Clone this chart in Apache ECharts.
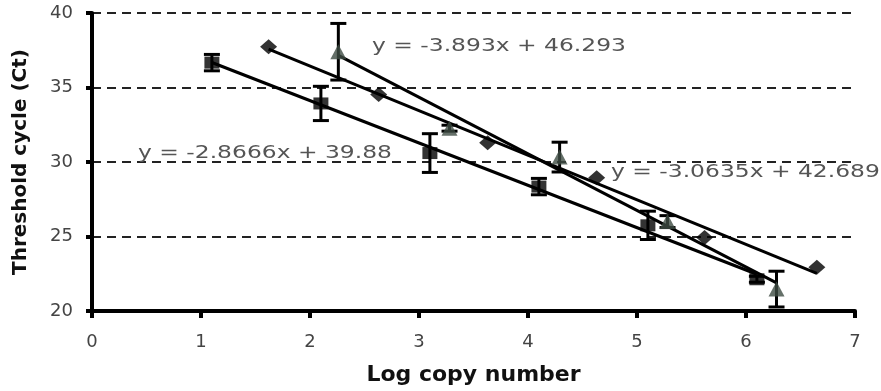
<!DOCTYPE html>
<html><head><meta charset="utf-8">
<script src="https://cdn.jsdelivr.net/npm/echarts@6/dist/echarts.min.js"></script>
<style>html,body{margin:0;padding:0;background:#fff}#c{width:881px;height:391px}</style>
</head><body><div id="c"></div>
<script>
const xTicks = [0,1,2,3,4,5,6,7];
const yTicks = [20,25,30,35,40];
const xSquares = [1.1, 2.1, 3.1, 4.1, 5.1, 6.1];
const ySquares = [36.67, 33.93, 30.6, 28.35, 25.75, 22.13];
const errSquares = [0.55, 1.15, 1.3, 0.55, 0.95, 0.2];
const xDiamonds = [1.62, 2.63, 3.63, 4.63, 5.62, 6.65];
const yDiamonds = [37.73, 34.53, 31.3, 28.95, 24.93, 22.93];
const xTriangles = [2.26, 3.28, 4.29, 5.28, 6.28];
const yTriangles = [37.4, 32.27, 30.33, 26.0, 21.47];
const errTriangles = [1.9, 0.2, 1.0, 0.4, 1.2];
const eqLabels = ['y = -3.893x + 46.293', 'y = -2.8666x + 39.88', 'y = -3.0635x + 42.689'];

function fit(xs, ys){
  const n = xs.length;
  const mx = xs.reduce((a,b)=>a+b,0)/n, my = ys.reduce((a,b)=>a+b,0)/n;
  let sxy=0, sxx=0;
  for(let i=0;i<n;i++){sxy+=(xs[i]-mx)*(ys[i]-my); sxx+=(xs[i]-mx)**2;}
  const b = sxy/sxx, a = my - b*mx;
  const x0 = Math.min(...xs), x1 = Math.max(...xs);
  return [[x0, a+b*x0],[x1, a+b*x1]];
}
const zip = (xs, ys) => xs.map((x,i)=>[x, ys[i]]);
const errData = (xs, ys, es) => xs.map((x,i)=>[x, ys[i]-es[i], ys[i]+es[i]]);

function errRender(params, api){
  const x = api.value(0);
  const lo = api.coord([x, api.value(1)]);
  const hi = api.coord([x, api.value(2)]);
  const w = 8;
  const st = {stroke:'#000', lineWidth:3};
  return {type:'group', children:[
    {type:'line', shape:{x1:lo[0],y1:lo[1],x2:hi[0],y2:hi[1]}, style:st},
    {type:'line', shape:{x1:lo[0]-w,y1:lo[1],x2:lo[0]+w,y2:lo[1]}, style:st},
    {type:'line', shape:{x1:hi[0]-w,y1:hi[1],x2:hi[0]+w,y2:hi[1]}, style:st}
  ]};
}

const chart = echarts.init(document.getElementById('c'));
const font = 'DejaVu Sans';
chart.setOption({
  animation:false,
  backgroundColor:'#fff',
  grid:{left:92,right:26,top:13,bottom:79},
  xAxis:{type:'value',min:0,max:7,interval:1,
    name:'Log copy number',nameLocation:'middle',nameGap:53,
    nameTextStyle:{fontFamily:font,fontWeight:'bold',fontSize:22,color:'#111'},
    axisLine:{show:true,onZero:false,lineStyle:{color:'#000',width:4}},
    axisTick:{show:true,length:7,lineStyle:{color:'#000',width:4}},
    axisLabel:{fontFamily:font,fontSize:18,color:'#444',margin:22,
      formatter:v=>xTicks.includes(v)?String(v):''},
    splitLine:{show:false}},
  yAxis:{type:'value',min:20,max:40,interval:5,
    name:'Threshold cycle (Ct)',nameLocation:'middle',nameGap:61,nameRotate:90,
    nameTextStyle:{fontFamily:font,fontWeight:'bold',fontSize:20,color:'#111'},
    axisLine:{show:true,onZero:false,lineStyle:{color:'#000',width:4}},
    axisTick:{show:true,length:6,lineStyle:{color:'#000',width:4}},
    axisLabel:{fontFamily:font,fontSize:18,color:'#444',margin:19,
      formatter:v=>yTicks.includes(v)?String(v):''},
    splitLine:{show:true,lineStyle:{color:'#222',width:2,type:[9,6]}}},
  series:[
    {type:'line',data:fit(xSquares,ySquares),symbol:'none',lineStyle:{color:'#000',width:3},z:3},
    {type:'line',data:fit(xDiamonds,yDiamonds),symbol:'none',lineStyle:{color:'#000',width:3},z:3},
    {type:'line',data:fit(xTriangles,yTriangles),symbol:'none',lineStyle:{color:'#000',width:3},z:3},
    {type:'custom',renderItem:errRender,data:errData(xSquares,ySquares,errSquares),z:4},
    {type:'custom',renderItem:errRender,data:errData(xTriangles,yTriangles,errTriangles),z:4},
    {type:'scatter',data:zip(xSquares,ySquares),symbol:'rect',symbolSize:[15,12],itemStyle:{color:'#000'},z:5},
    {type:'scatter',data:zip(xDiamonds,yDiamonds),symbol:'diamond',symbolSize:[17,15],itemStyle:{color:'#000'},z:5},
    {type:'scatter',data:zip(xTriangles,yTriangles),symbol:'triangle',symbolSize:[16,15],itemStyle:{color:'#3f4c43'},z:5}
  ],
  graphic:[
    {type:'text',x:372,y:46,scaleX:1.3,style:{text:eqLabels[0],fill:'#555',font:'18px DejaVu Sans',align:'left',verticalAlign:'middle',textAlign:'left',textVerticalAlign:'middle'},z:10},
    {type:'text',x:138,y:153,scaleX:1.3,style:{text:eqLabels[1],fill:'#555',font:'18px DejaVu Sans',align:'left',verticalAlign:'middle',textAlign:'left',textVerticalAlign:'middle'},z:10},
    {type:'text',x:611,y:172,scaleX:1.3,style:{text:eqLabels[2],fill:'#555',font:'18px DejaVu Sans',align:'left',verticalAlign:'middle',textAlign:'left',textVerticalAlign:'middle'},z:10}
  ]
});
</script></body></html>
